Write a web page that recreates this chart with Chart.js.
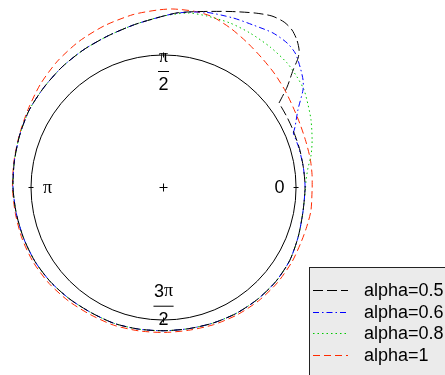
<!DOCTYPE html>
<html>
<head>
<meta charset="utf-8">
<script src="https://cdn.jsdelivr.net/npm/chart.js@4/dist/chart.umd.min.js"></script>
<style>
  html, body { margin: 0; padding: 0; background: #ffffff; }
  canvas { display: block; }
</style>
</head>
<body>
<canvas id="polarPlot" width="445" height="375"></canvas>
<script>
// Series names shown in the legend
const seriesNames = ['alpha=0.5', 'alpha=0.6', 'alpha=0.8', 'alpha=1'];

// Polar samples of each response: angle in degrees, radius.
// Each list starts at the curve's kink so the corner stays sharp.
const theta05 = [36.2, 39.1, 42.2, 43.9, 45.4, 47.9, 50.8, 53.9, 57.7, 62.3, 69.3, 78.3, 85, 90, 100, 110, 120, 130, 140, 150, 160, 170, 180, 190, 200, 210, 220, 230, 240, 250, 260, 270, 280, 290, 300, 310, 320, 330, 340, 350, 0, 8, 16, 24, 30, 36.2];
const rho05   = [1.080, 1.201, 1.320, 1.409, 1.457, 1.501, 1.534, 1.545, 1.531, 1.487, 1.420, 1.356, 1.325, 1.294, 1.249, 1.219, 1.202, 1.189, 1.177, 1.170, 1.155, 1.143, 1.136, 1.128, 1.123, 1.119, 1.111, 1.100, 1.091, 1.091, 1.085, 1.081, 1.082, 1.089, 1.097, 1.102, 1.105, 1.100, 1.082, 1.068, 1.068, 1.066, 1.067, 1.069, 1.073, 1.080];

const theta06 = [22.8, 24.7, 30, 35, 37.6, 41.4, 45.6, 49.5, 54.7, 61.2, 67.7, 76.6, 85, 90, 100, 110, 120, 130, 140, 150, 160, 170, 180, 190, 200, 210, 220, 230, 240, 250, 260, 270, 280, 290, 300, 310, 320, 330, 340, 350, 0, 8, 16, 22.8];
const rho06   = [1.062, 1.092, 1.171, 1.285, 1.329, 1.374, 1.420, 1.435, 1.429, 1.400, 1.383, 1.360, 1.323, 1.294, 1.249, 1.219, 1.202, 1.189, 1.177, 1.170, 1.155, 1.143, 1.136, 1.128, 1.123, 1.119, 1.111, 1.100, 1.091, 1.091, 1.085, 1.081, 1.082, 1.089, 1.097, 1.102, 1.105, 1.100, 1.082, 1.068, 1.068, 1.066, 1.064, 1.062];

const theta08 = [0, 3, 7.7, 12.4, 17.7, 24.6, 29.7, 34.8, 39.6, 45.2, 52.8, 60.8, 68, 75.8, 82, 90, 100, 110, 120, 130, 140, 150, 160, 170, 180, 190, 200, 210, 220, 230, 240, 250, 260, 270, 280, 290, 300, 310, 320, 330, 340, 350, 0];
const rho08   = [1.072, 1.077, 1.100, 1.140, 1.177, 1.224, 1.256, 1.291, 1.308, 1.324, 1.331, 1.336, 1.339, 1.335, 1.330, 1.294, 1.249, 1.219, 1.202, 1.189, 1.177, 1.170, 1.155, 1.143, 1.136, 1.128, 1.123, 1.119, 1.111, 1.100, 1.091, 1.091, 1.085, 1.081, 1.082, 1.089, 1.097, 1.102, 1.105, 1.100, 1.082, 1.068, 1.072];

const theta1 = [0, 5, 11, 18, 25, 32, 39, 46, 53, 60, 67, 74, 80, 87, 92, 100, 110, 120, 130, 140, 150, 160, 170, 180, 190, 200, 210, 220, 230, 240, 250, 260, 270, 280, 290, 300, 310, 320, 330, 338, 344, 351, 0];
const rho1   = [1.122, 1.125, 1.128, 1.129, 1.136, 1.151, 1.175, 1.201, 1.228, 1.263, 1.303, 1.340, 1.350, 1.349, 1.340, 1.325, 1.300, 1.274, 1.245, 1.213, 1.180, 1.158, 1.146, 1.140, 1.135, 1.135, 1.133, 1.127, 1.117, 1.107, 1.105, 1.098, 1.094, 1.094, 1.102, 1.110, 1.116, 1.120, 1.120, 1.117, 1.120, 1.126, 1.122];

// Angular tick marks and their labels (numerator / denominator)
const angleTicks = [0, 90, 180, 270];
const angleTickNum = ['0', 'π', 'π', '3π'];
const angleTickDen = ['', '2', '', '2'];

const lineColors = ['#000000', '#0000ff', '#00c800', '#ff2a00'];
const lineDashes = [[10, 4], [6, 3, 1.5, 3], [1.5, 3], [7, 4]];

function toXY(theta, rho) {
  return theta.map((t, i) => {
    const a = t * Math.PI / 180;
    return { x: rho[i] * Math.cos(a), y: rho[i] * Math.sin(a) };
  });
}

const curves = [[theta05, rho05], [theta06, rho06], [theta08, rho08], [theta1, rho1]];

const datasets = curves.map((c, i) => ({
  label: seriesNames[i],
  data: toXY(c[0], c[1]),
  showLine: true,
  borderColor: lineColors[i],
  borderWidth: 1,
  borderDash: lineDashes[i],
  pointRadius: 0,
  tension: 0.25,
  fill: false
}));

const sansFont = '18px "Liberation Sans", Arial, sans-serif';
const serifFont = '18px "Liberation Serif", "Times New Roman", serif';

// Draws a piece of text where each π uses the serif face
function drawMixed(ctx, text, cx, cy) {
  const parts = text.split('');
  const fonts = parts.map(ch => ch === 'π' ? serifFont : sansFont);
  let total = 0;
  const widths = parts.map((ch, k) => { ctx.font = fonts[k]; const w = ctx.measureText(ch).width; total += w; return w; });
  let x = cx - total / 2;
  ctx.textBaseline = 'middle';
  ctx.textAlign = 'left';
  parts.forEach((ch, k) => { ctx.font = fonts[k]; ctx.fillText(ch, x, cy); x += widths[k]; });
  return total;
}

const polarFrame = {
  id: 'polarFrame',
  beforeDatasetsDraw(chart) {
    const ctx = chart.ctx;
    const xs = chart.scales.x, ys = chart.scales.y;
    const cx = xs.getPixelForValue(0), cy = ys.getPixelForValue(0);
    const R = xs.getPixelForValue(1) - cx;
    ctx.save();
    ctx.strokeStyle = '#000';
    ctx.lineWidth = 1;
    ctx.setLineDash([]);
    ctx.beginPath();
    ctx.arc(cx, cy, R, 0, Math.PI * 2);
    ctx.stroke();
    // centre cross
    ctx.beginPath();
    ctx.moveTo(cx - 4, cy); ctx.lineTo(cx + 4, cy);
    ctx.moveTo(cx, cy - 4); ctx.lineTo(cx, cy + 4);
    ctx.stroke();
    // radial ticks
    angleTicks.forEach(t => {
      const a = t * Math.PI / 180;
      ctx.beginPath();
      ctx.moveTo(cx + (R - 2.5) * Math.cos(a), cy - (R - 2.5) * Math.sin(a));
      ctx.lineTo(cx + (R + 2.5) * Math.cos(a), cy - (R + 2.5) * Math.sin(a));
      ctx.stroke();
    });
    // labels
    ctx.fillStyle = '#000';
    angleTicks.forEach((t, i) => {
      const a = t * Math.PI / 180;
      const num = angleTickNum[i], den = angleTickDen[i];
      if (!den) {
        const lx = cx + 0.875 * R * Math.cos(a), ly = cy - 0.875 * R * Math.sin(a);
        drawMixed(ctx, num, lx, ly + 1);
      } else {
        const up = Math.sin(a) > 0;
        const barY = up ? cy - 0.879 * R : cy + 0.892 * R;
        const w = drawMixed(ctx, num, cx, barY - 14);
        drawMixed(ctx, den, cx, barY + 14);
        const bw = Math.max(w, 10) + 1;
        ctx.beginPath();
        ctx.moveTo(cx - bw / 2, barY + 0.5);
        ctx.lineTo(cx + bw / 2, barY + 0.5);
        ctx.stroke();
      }
    });
    ctx.restore();
  }
};

const boxLegend = {
  id: 'boxLegend',
  afterDraw(chart) {
    const ctx = chart.ctx;
    ctx.save();
    ctx.fillStyle = '#ebebeb';
    ctx.fillRect(309, 267, 140, 112);
    ctx.strokeStyle = '#222';
    ctx.lineWidth = 1;
    ctx.setLineDash([]);
    ctx.strokeRect(309.5, 267.5, 140, 112);
    seriesNames.forEach((name, i) => {
      const y = 290 + i * 21.6;
      ctx.lineWidth = 1;
      ctx.strokeStyle = lineColors[i];
      ctx.setLineDash(lineDashes[i]);
      ctx.beginPath();
      ctx.moveTo(313, Math.round(y) + 0.5);
      ctx.lineTo(348, Math.round(y) + 0.5);
      ctx.stroke();
      ctx.setLineDash([]);
      ctx.fillStyle = '#000';
      ctx.font = sansFont;
      ctx.textAlign = 'left';
      ctx.textBaseline = 'middle';
      ctx.fillText(name, 364, y + 1);
    });
    ctx.restore();
  }
};

new Chart(document.getElementById('polarPlot'), {
  type: 'scatter',
  data: { datasets },
  options: {
    responsive: false,
    devicePixelRatio: 1,
    animation: false,
    layout: { padding: 0 },
    plugins: { legend: { display: false }, tooltip: { enabled: false } },
    scales: {
      x: { type: 'linear', display: false, min: -1.234, max: 2.124 },
      y: { type: 'linear', display: false, min: -1.415, max: 1.415 }
    },
    elements: { line: { borderCapStyle: 'butt' } }
  },
  plugins: [polarFrame, boxLegend]
});
</script>
</body>
</html>
